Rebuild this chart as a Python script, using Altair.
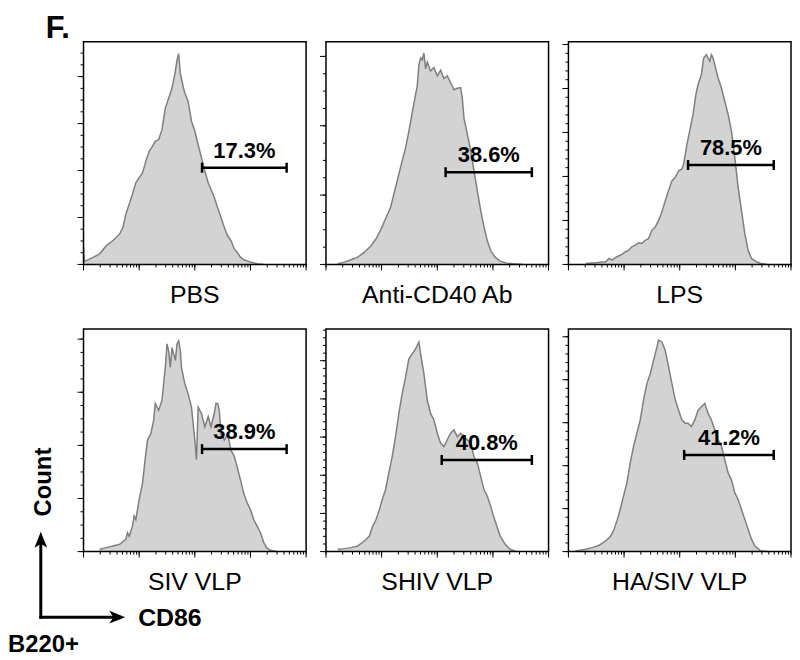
import altair as alt
import numpy as np
import pandas as pd

FONT = "Liberation Sans"

# ---------------- data ----------------
names = ["PBS", "Anti-CD40 Ab", "LPS", "SIV VLP", "SHIV VLP", "HA/SIV VLP"]
pct = ["17.3%", "38.6%", "78.5%", "38.9%", "40.8%", "41.2%"]
# gate limits in log10(CD86) and gate height in count units
gate_lo = [3.13, 3.15, 3.15, 3.13, 3.08, 3.08]
gate_hi = [4.65, 4.70, 4.69, 4.65, 4.70, 4.69]
gate_y = [206, 133, 226, 193, 240, 225]
# y axis: top of domain, minor subdivisions per major tick (major = 100)
y_top = [474, 321, 506, 419, 583, 518]
y_sub = [4, 4, 5, 4, 5, 5]

pbs_lx = [1.0, 1.015, 1.06, 1.18, 1.29, 1.41, 1.53, 1.65, 1.71, 1.76, 1.82, 1.88, 1.94, 2.0, 2.06,
          2.12, 2.18, 2.24, 2.29, 2.35, 2.41, 2.47, 2.53, 2.59, 2.65, 2.68, 2.71, 2.74, 2.76, 2.79,
          2.82, 2.88, 2.91, 2.94, 3.0, 3.06, 3.12, 3.18, 3.24, 3.29, 3.35, 3.41, 3.47, 3.53, 3.59,
          3.65, 3.71, 3.76, 3.82, 3.88, 4.0, 4.12, 4.24]
pbs_y = [37, 6, 8.5, 15.5, 22.6, 40, 51, 65, 79, 107, 128, 150, 174, 185, 195,
         220, 241, 252, 262, 266, 287, 333, 354, 375, 411, 435, 449, 407, 396, 379,
         365, 347, 326, 305, 284, 255, 227, 199, 174, 160, 143, 121, 100, 79, 61,
         51, 33, 26, 15.5, 10, 5, 1.4, 0]

cd40_lx = [1.21, 1.33, 1.45, 1.57, 1.69, 1.81, 1.90, 1.99, 2.07, 2.16, 2.25, 2.34, 2.43, 2.49, 2.55,
           2.61, 2.64, 2.67, 2.70, 2.73, 2.76, 2.79, 2.82, 2.88, 2.94, 3.0, 3.06, 3.12, 3.18, 3.24,
           3.30, 3.36, 3.42, 3.45, 3.48, 3.54, 3.60, 3.66, 3.72, 3.78, 3.84, 3.90, 3.96, 4.04, 4.13,
           4.25, 4.37, 4.55]
cd40_y = [1, 3.3, 6.7, 10.5, 17.7, 27, 37, 51, 66, 82, 111, 140, 168, 192, 219,
          245, 257, 288, 298, 295, 305, 282, 292, 279, 284, 272, 280, 268, 272, 262,
          252, 254, 255, 240, 211, 188, 164, 135, 106, 78, 54, 34, 20, 10.5, 4.8,
          1.9, 1, 0]

lps_lx = [1.31, 1.49, 1.67, 1.73, 1.79, 1.85, 1.96, 2.02, 2.08, 2.14, 2.20, 2.26, 2.32, 2.38, 2.44,
          2.50, 2.56, 2.62, 2.68, 2.74, 2.80, 2.86, 2.92, 2.98, 3.04, 3.07, 3.13, 3.18, 3.24, 3.29,
          3.33, 3.39, 3.43, 3.48, 3.54, 3.57, 3.60, 3.63, 3.69, 3.75, 3.81, 3.87, 3.93, 3.99, 4.05,
          4.11, 4.17, 4.23, 4.29, 4.38, 4.46, 4.58]
lps_y = [2.3, 3.8, 6, 13.6, 9.8, 15.8, 23, 28.6, 32, 40, 43.7, 49, 47.5, 55, 58.8,
         77.6, 85, 100, 119, 145, 168, 190, 198, 213, 217, 228, 273, 304, 341, 386,
         409, 432, 469, 477, 462, 477, 469, 454, 424, 401, 371, 341, 303, 243, 175,
         123, 70, 32, 13.6, 6, 2.3, 0]

siv_lx = [1.29, 1.41, 1.53, 1.65, 1.76, 1.79, 1.82, 1.88, 1.91, 1.94, 2.0, 2.06, 2.12, 2.15, 2.21,
          2.26, 2.29, 2.35, 2.41, 2.47, 2.50, 2.53, 2.56, 2.59, 2.65, 2.68, 2.71, 2.74, 2.76, 2.82,
          2.88, 2.94, 3.0, 3.03, 3.06, 3.12, 3.18, 3.24, 3.29, 3.35, 3.38, 3.41, 3.44, 3.47, 3.53,
          3.59, 3.65, 3.71, 3.76, 3.82, 3.88, 3.94, 4.0, 4.06, 4.12, 4.18, 4.24, 4.29, 4.35, 4.47]
siv_y = [4.4, 7.5, 10.6, 13.7, 23, 35.5, 29, 48, 67, 60, 98, 129, 185, 210, 222,
         247, 279, 266, 285, 347, 391, 378, 347, 384, 360, 391, 397, 378, 347, 316,
         297, 272, 210, 173, 272, 260, 235, 254, 235, 260, 279, 279, 266, 222, 210,
         222, 191, 179, 160, 135, 110, 92, 79, 60, 48, 35.5, 17, 7.5, 3, 0]

shiv_lx = [1.21, 1.33, 1.45, 1.57, 1.69, 1.78, 1.84, 1.90, 1.96, 2.01, 2.07, 2.13, 2.19, 2.25, 2.31,
           2.37, 2.43, 2.49, 2.55, 2.61, 2.67, 2.70, 2.76, 2.82, 2.88, 2.94, 3.0, 3.06, 3.12, 3.18,
           3.24, 3.30, 3.36, 3.42, 3.48, 3.54, 3.60, 3.66, 3.72, 3.78, 3.84, 3.90, 3.96, 4.01, 4.07,
           4.13, 4.22, 4.31, 4.43]
shiv_y = [6, 7.8, 10.4, 14.8, 27.8, 40.8, 66.8, 84, 110, 136, 162, 206, 249, 301, 362,
          414, 457, 505, 518, 531, 549, 518, 466, 397, 362, 345, 310, 284, 275, 293,
          310, 319, 301, 310, 301, 293, 284, 249, 232, 197, 162, 145, 119, 93, 67,
          41, 19, 6, 0]

hasiv_lx = [1.13, 1.31, 1.43, 1.55, 1.67, 1.76, 1.82, 1.88, 1.93, 1.99, 2.05, 2.11, 2.17, 2.23, 2.29,
            2.35, 2.41, 2.47, 2.53, 2.59, 2.62, 2.68, 2.74, 2.80, 2.86, 2.92, 2.98, 3.04, 3.10, 3.15,
            3.21, 3.27, 3.33, 3.39, 3.45, 3.51, 3.57, 3.63, 3.69, 3.75, 3.81, 3.87, 3.93, 3.99, 4.05,
            4.11, 4.17, 4.23, 4.29, 4.35, 4.46, 4.58]
hasiv_y = [1.5, 5.4, 9.3, 14.7, 24.7, 36, 52, 75, 98, 129, 160, 206, 245, 275, 306,
           353, 391, 414, 445, 476, 492, 488, 468, 430, 391, 353, 329, 306, 299, 299,
           291, 306, 329, 337, 345, 322, 306, 283, 260, 245, 214, 183, 167, 137, 121,
           98, 75, 52, 29, 13, 1.5, 0]

curves_lx = [pbs_lx, cd40_lx, lps_lx, siv_lx, shiv_lx, hasiv_lx]
curves_y = [pbs_y, cd40_y, lps_y, siv_y, shiv_y, hasiv_y]

# unlabelled log ticks of the CD86 axis
x_minor = [d * 10 ** e for e in (1, 2, 3, 4) for d in range(1, 10)] + [100000]
x_major = [10, 100, 1000, 10000, 100000]

# ---------------- chart ----------------
W = 224
H = 224
x_scale = alt.Scale(type="log", domain=[10, 100000], nice=False)
one = pd.DataFrame({"k": [0]})


def ann_text(txt, x, y, size, weight="bold", angle=0, align="left", baseline="middle"):
    return alt.Chart(one).mark_text(
        text=txt, font=FONT, fontSize=size, fontWeight=weight, angle=angle,
        align=align, baseline=baseline, color="black"
    ).encode(x=alt.value(x), y=alt.value(y))


def spacer(x, x2, y, y2):
    # invisible mark that only reserves layout room
    return alt.Chart(one).mark_rule(opacity=0, strokeWidth=1).encode(
        x=alt.value(x), x2=alt.value(x2), y=alt.value(y), y2=alt.value(y2))


def make_panel(i):
    df = pd.DataFrame({"cd86": 10 ** np.array(curves_lx[i], dtype=float),
                       "count": curves_y[i]})
    ysc = alt.Scale(domain=[0, y_top[i]], nice=False, zero=True)
    step = 100.0 / y_sub[i]
    y_minor = [float(v) for v in np.arange(0, y_top[i] + 0.01, step)]
    y_major = [float(v) for v in np.arange(0, y_top[i] + 0.01, 100.0)]

    area = alt.Chart(df).mark_area(
        color="#c0c0c0", interpolate="linear",
        line={"color": "#7f7f7f", "strokeWidth": 1.5},
    ).encode(
        x=alt.X("cd86:Q", scale=x_scale, axis=None),
        y=alt.Y("count:Q", scale=ysc, axis=None),
    )
    # tick marks of the two unlabelled axes
    xmin = alt.Chart(pd.DataFrame({"t": x_minor})).mark_rule(color="black", strokeWidth=1).encode(
        x=alt.X("t:Q", scale=x_scale, axis=None), y=alt.value(H), y2=alt.value(H + 3))
    xmaj = alt.Chart(pd.DataFrame({"t": x_major})).mark_rule(color="black", strokeWidth=1).encode(
        x=alt.X("t:Q", scale=x_scale, axis=None), y=alt.value(H), y2=alt.value(H + 6))
    ymin = alt.Chart(pd.DataFrame({"t": y_minor})).mark_rule(color="black", strokeWidth=1).encode(
        y=alt.Y("t:Q", scale=ysc, axis=None), x=alt.value(0), x2=alt.value(-3))
    ymaj = alt.Chart(pd.DataFrame({"t": y_major})).mark_rule(color="black", strokeWidth=1).encode(
        y=alt.Y("t:Q", scale=ysc, axis=None), x=alt.value(0), x2=alt.value(-6))
    frame = alt.Chart(one).mark_rect(filled=False, stroke="black", strokeWidth=1.5).encode(
        x=alt.value(0), x2=alt.value(W), y=alt.value(0), y2=alt.value(H))

    gdf = pd.DataFrame({
        "lo": [10 ** gate_lo[i]], "hi": [10 ** gate_hi[i]], "gy": [gate_y[i]],
        "mid": [10 ** ((gate_lo[i] + gate_hi[i]) / 2)], "lab": [pct[i]],
    })
    rule = alt.Chart(gdf).mark_rule(color="black", strokeWidth=2.5).encode(
        x=alt.X("lo:Q", scale=x_scale, axis=None), x2="hi:Q",
        y=alt.Y("gy:Q", scale=ysc, axis=None),
    )
    cdf = pd.DataFrame({"cx": [10 ** gate_lo[i], 10 ** gate_hi[i]],
                        "gy": [gate_y[i], gate_y[i]]})
    caps = alt.Chart(cdf).mark_tick(orient="vertical", size=10, thickness=2.5,
                                    color="black", opacity=1).encode(
        x=alt.X("cx:Q", scale=x_scale, axis=None),
        y=alt.Y("gy:Q", scale=ysc, axis=None),
    )
    label = alt.Chart(gdf).mark_text(
        font=FONT, fontSize=22, fontWeight="bold", color="black",
        align="center", baseline="alphabetic", dy=-10,
    ).encode(
        x=alt.X("mid:Q", scale=x_scale, axis=None),
        y=alt.Y("gy:Q", scale=ysc, axis=None),
        text="lab:N",
    )
    title = ann_text(names[i], W / 2, H + 31, 25, weight="normal", align="center")
    layers = [area, xmin, xmaj, ymin, ymaj, frame, rule, caps, label, title]
    if i == 0:
        layers.append(ann_text("F.", -38, -28, 31, baseline="top"))
        # reserve the same room as the bottom-left annotations, and the top margin
        layers.append(spacer(-76, -70, 100, 101))
        layers.append(spacer(-30, -29, -32, -31))
    if i == 3:
        head = "M0,-1L0.8,1L0,0.5L-0.8,1Z"
        layers += [
            alt.Chart(one).mark_rule(color="black", strokeWidth=3).encode(
                x=alt.value(-43), y=alt.value(212), y2=alt.value(291.5)),
            alt.Chart(one).mark_rule(color="black", strokeWidth=3).encode(
                x=alt.value(-44.5), x2=alt.value(34), y=alt.value(290)),
            alt.Chart(one).mark_point(shape=head, filled=True, size=256, color="black",
                                      opacity=1, strokeWidth=0).encode(
                x=alt.value(-43), y=alt.value(212)),
            alt.Chart(one).mark_point(shape=head, filled=True, size=256, color="black",
                                      opacity=1, strokeWidth=0, angle=90).encode(
                x=alt.value(34), y=alt.value(290)),
            ann_text("Count", -40, 154, 24, angle=270, align="center"),
            ann_text("CD86", 55, 291, 25),
            ann_text("B220+", -76, 318, 24),
        ]
    return alt.layer(*layers).properties(width=W, height=H)


panels = [make_panel(i) for i in range(6)]
row1 = alt.hconcat(*panels[:3], spacing=12).resolve_scale(x="independent", y="independent")
row2 = alt.hconcat(*panels[3:], spacing=12).resolve_scale(x="independent", y="independent")
chart = alt.vconcat(row1, row2, spacing=20).resolve_scale(
    x="independent", y="independent"
).configure_view(strokeWidth=0).properties(background="white", padding=0)

chart.save("out.html", embed_options={"renderer": "svg", "actions": False})
